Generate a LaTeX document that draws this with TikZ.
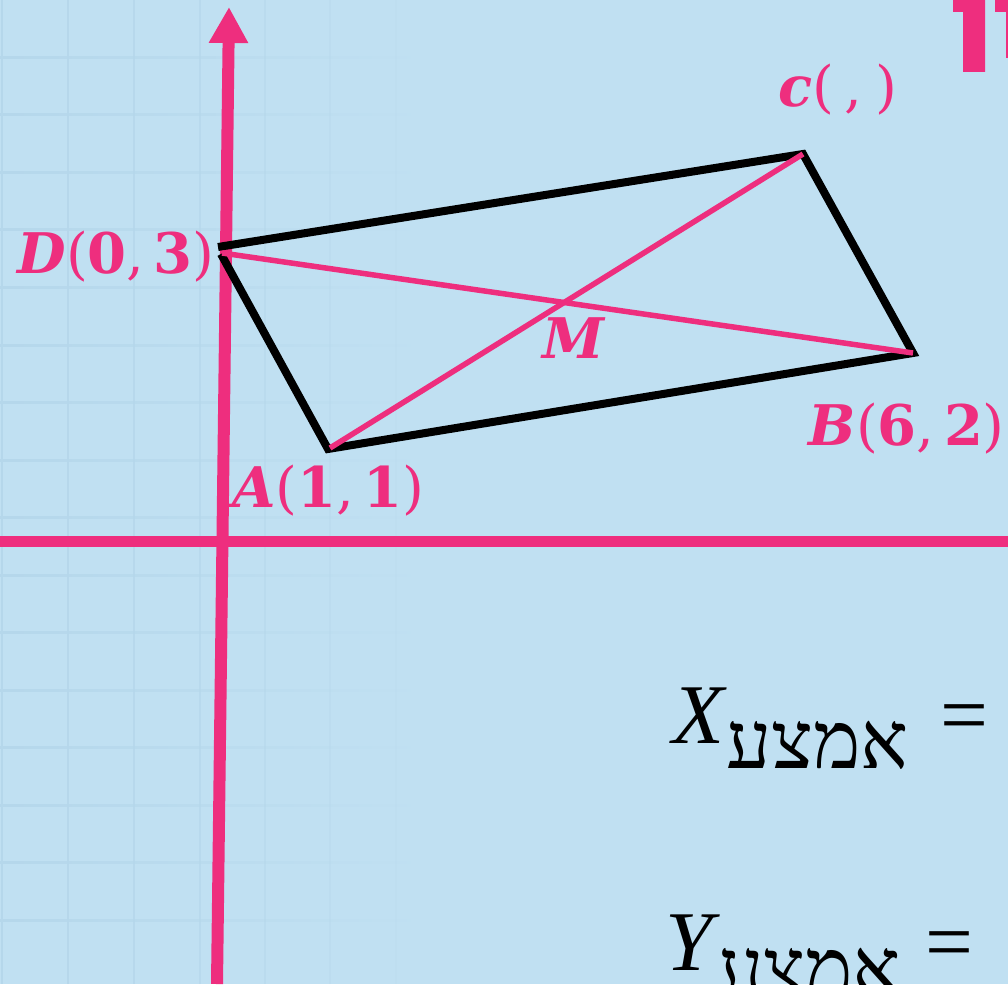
\documentclass[tikz,border=0pt]{standalone}
\usepackage{fontspec}
\setmainfont{DejaVu Serif}
\newfontfamily\frm{Liberation Serif}
\newfontfamily\heb[Script=Hebrew]{Liberation Serif}
\TeXXeTstate=1
\usetikzlibrary{arrows.meta}
\definecolor{bg}{HTML}{C0E0F2}
\definecolor{pk}{HTML}{EE2E7E}
\definecolor{gridc}{HTML}{B5D7EB}
\tikzset{
  axis/.style={pk,line width=12pt},
  edge/.style={black,line width=8pt,line join=miter},
  diag/.style={pk,line width=5.5pt},
  lab/.style={pk,inner sep=0pt,font=\fontsize{56}{60}\selectfont},
  frml/.style={black,inner sep=0pt,font=\frm\fontsize{85}{90}\selectfont},
  hebl/.style={black,inner sep=0pt,font=\heb\fontsize{80}{86}\selectfont},
}
\begin{document}
\begin{tikzpicture}[x=1pt,y=-1pt]
\fill[bg] (0,0) rectangle (1008,984);
\useasboundingbox (0,0) rectangle (1008,984);
% faint grid
\foreach \i in {1,...,16}
  \shade[left color=gridc,right color=bg] (0,{\i*57.5-1}) rectangle (430,{\i*57.5+1});
\foreach \x/\o in {2/1,68/0.9,134/0.8,200/0.7,265/0.5,330/0.35,396/0.15}
  \fill[gridc,opacity=\o] ({\x-1},0) rectangle ({\x+1},984);
% top-right fragments
\fill[pk] (953,0) -- (985,0) -- (985,72) -- (963,72) -- (963,12) -- (953,12) -- cycle;
\fill[pk] (995,0) -- (1008,0) -- (1008,58) -- (1006,58) -- (1006,12) -- (995,12) -- cycle;
% axes
\coordinate (yb) at (217,984);
\coordinate (yt) at (229,7);
\coordinate (xl) at (0,541);
\coordinate (xr) at (1008,541);
\draw[axis,-{Triangle[width=37pt,length=36pt]}] (yb) -- (yt);
\draw[pk,line width=11pt] (xl) -- (xr);
% quadrilateral
\coordinate (D1) at (218,247);
\coordinate (D2) at (221,254);
\coordinate (C) at (803,154);
\coordinate (B) at (913,353);
\coordinate (A) at (328,449);
\draw[edge] (D1) -- (C) -- (B) -- (A) -- (D2);
\coordinate (Dp) at (222,253);
\coordinate (Ap) at (330,448);
\draw[diag] (Dp) -- (B);
\draw[diag] (Ap) -- (C);
% labels
\node[lab,anchor=base east] (lD) at (215,273) {\textbf{\textit{D}}(\textbf{0},\,\textbf{3})};
\node[lab,anchor=base west] (lC) at (778,107) {\textbf{\textit{c}}(\hspace{10pt},\hspace{14pt})};
\node[lab,anchor=base west] (lM) at (542,358) {\textbf{\textit{M}}};
\node[lab,anchor=base east] (lB) at (1005,445) {\textbf{\textit{B}}(\textbf{6},\,\textbf{2})};
\node[lab,anchor=base west] (lA) at (232,507) {\textbf{\textit{A}}(\textbf{1},\,\textbf{1})};
% formulas
\node[frml,anchor=base west] (Xm) at (672,743) {\textit{X}};
\node[hebl,anchor=base west] (Xh) at (726,768) {\beginR אמצע\endR};
\node[frml,anchor=base west] (Xe) at (940,743) {=};
\node[frml,anchor=base west] (Ym) at (665,970) {\textit{Y}};
\node[hebl,anchor=base west] (Yh) at (718,995) {\beginR אמצע\endR};
\node[frml,anchor=base west] (Ye) at (925,970) {=};
\end{tikzpicture}
\end{document}
